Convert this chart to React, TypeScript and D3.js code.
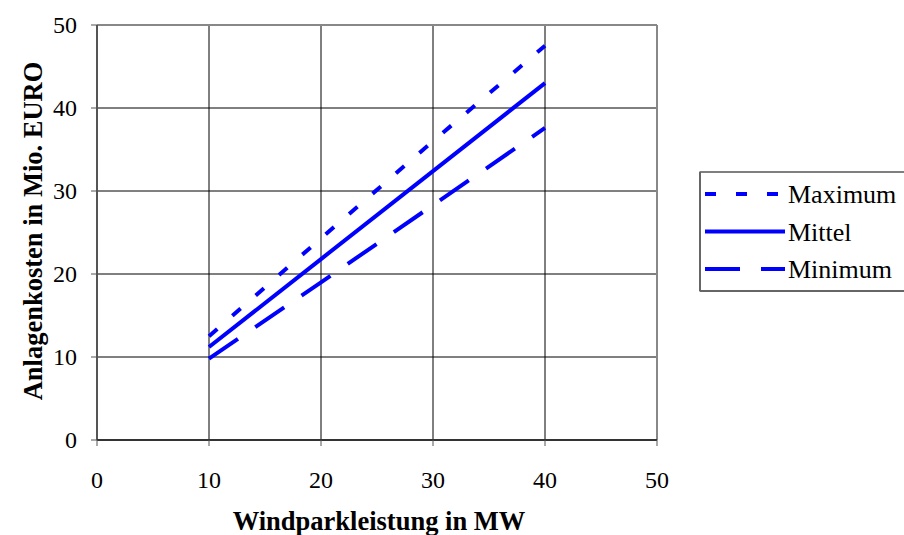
import React from "react";
import * as d3 from "d3";

const xValues = [10, 20, 30, 40];
const maximum = [12.5, 24.3, 36.0, 47.5];
const mittel = [11.2, 21.8, 32.4, 43.0];
const minimum = [9.8, 19.0, 28.3, 37.6];
const xTicks = [0, 10, 20, 30, 40, 50];
const yTicks = [0, 10, 20, 30, 40, 50];
const seriesNames = ["Maximum", "Mittel", "Minimum"];

const W = 904, H = 535;
const left = 97, right = 657, top = 25, bottom = 440;
const FONT = "Liberation Serif, Times New Roman, DejaVu Serif, serif";
const BLUE = "#0000FF";

const styles: Record<string, string | undefined> = {
  Maximum: "11,20",
  Mittel: undefined,
  Minimum: "35,21",
};

const txt = { fontFamily: FONT };

export default function App() {
  const x = d3.scaleLinear().domain([0, 50]).range([left, right]);
  const y = d3.scaleLinear().domain([0, 50]).range([bottom, top]);
  const line = d3
    .line<[number, number]>()
    .x((d) => x(d[0]))
    .y((d) => y(d[1]));
  const series = [maximum, mittel, minimum];

  return (
    <svg
      width={W}
      height={H}
      style={{ position: "absolute", left: 0, top: 0, background: "#fff" }}
    >
      <rect x={0} y={0} width={W} height={H} fill="#fff" />
      {xTicks.slice(1, -1).map((t) => (
        <line key={"gx" + t} x1={x(t)} x2={x(t)} y1={top} y2={bottom} stroke="#000" strokeWidth={1} />
      ))}
      {yTicks.slice(1, -1).map((t) => (
        <line key={"gy" + t} x1={left} x2={right} y1={y(t)} y2={y(t)} stroke="#000" strokeWidth={1} />
      ))}
      <line x1={left} x2={right} y1={top} y2={top} stroke="#888" strokeWidth={2} />
      <line x1={right} x2={right} y1={top} y2={bottom} stroke="#888" strokeWidth={2} />
      <line x1={left} x2={left} y1={top} y2={bottom} stroke="#555" strokeWidth={2} />
      <line x1={left} x2={right} y1={bottom} y2={bottom} stroke="#333" strokeWidth={2} />
      {yTicks.map((t) => (
        <g key={"yt" + t}>
          <line x1={left - 6} x2={left} y1={y(t)} y2={y(t)} stroke="#555" strokeWidth={1} />
          <text x={left - 20} y={y(t)} dy="0.35em" textAnchor="end" fontSize={24} fill="#000" style={txt}>
            {t}
          </text>
        </g>
      ))}
      {xTicks.map((t) => (
        <g key={"xt" + t}>
          <line x1={x(t)} x2={x(t)} y1={bottom} y2={bottom + 6} stroke="#555" strokeWidth={1} />
          <text x={x(t)} y={488} textAnchor="middle" fontSize={24} fill="#000" style={txt}>
            {t}
          </text>
        </g>
      ))}
      {series.map((vals, i) => (
        <path
          key={seriesNames[i]}
          d={line(xValues.map((v, j) => [v, vals[j]] as [number, number])) || ""}
          fill="none"
          stroke={BLUE}
          strokeWidth={4}
          strokeDasharray={styles[seriesNames[i]]}
        />
      ))}
      <text x={379} y={530} textAnchor="middle" fontSize={26.5} fontWeight="bold" fill="#000" style={txt}>
        Windparkleistung in MW
      </text>
      <text
        transform={`translate(42, ${231}) rotate(-90)`}
        textAnchor="middle"
        fontSize={26.5}
        fontWeight="bold"
        fill="#000"
        style={txt}
      >
        Anlagenkosten in Mio. EURO
      </text>
      <rect x={700} y={172} width={220} height={119} fill="#fff" stroke="#000" strokeWidth={1} />
      <line x1={700} x2={700} y1={172} y2={291} stroke="#666" strokeWidth={2} />
      <line x1={700} x2={910} y1={291} y2={291} stroke="#666" strokeWidth={2} />
      {seriesNames.map((n, i) => {
        const cy = 194 + i * 37.5;
        return (
          <g key={"lg" + n}>
            <line x1={705} x2={785} y1={cy} y2={cy} stroke={BLUE} strokeWidth={4} strokeDasharray={styles[n]} />
            <text x={788} y={cy} dy="0.35em" fontSize={26} fill="#000" style={txt}>
              {n}
            </text>
          </g>
        );
      })}
    </svg>
  );
}
